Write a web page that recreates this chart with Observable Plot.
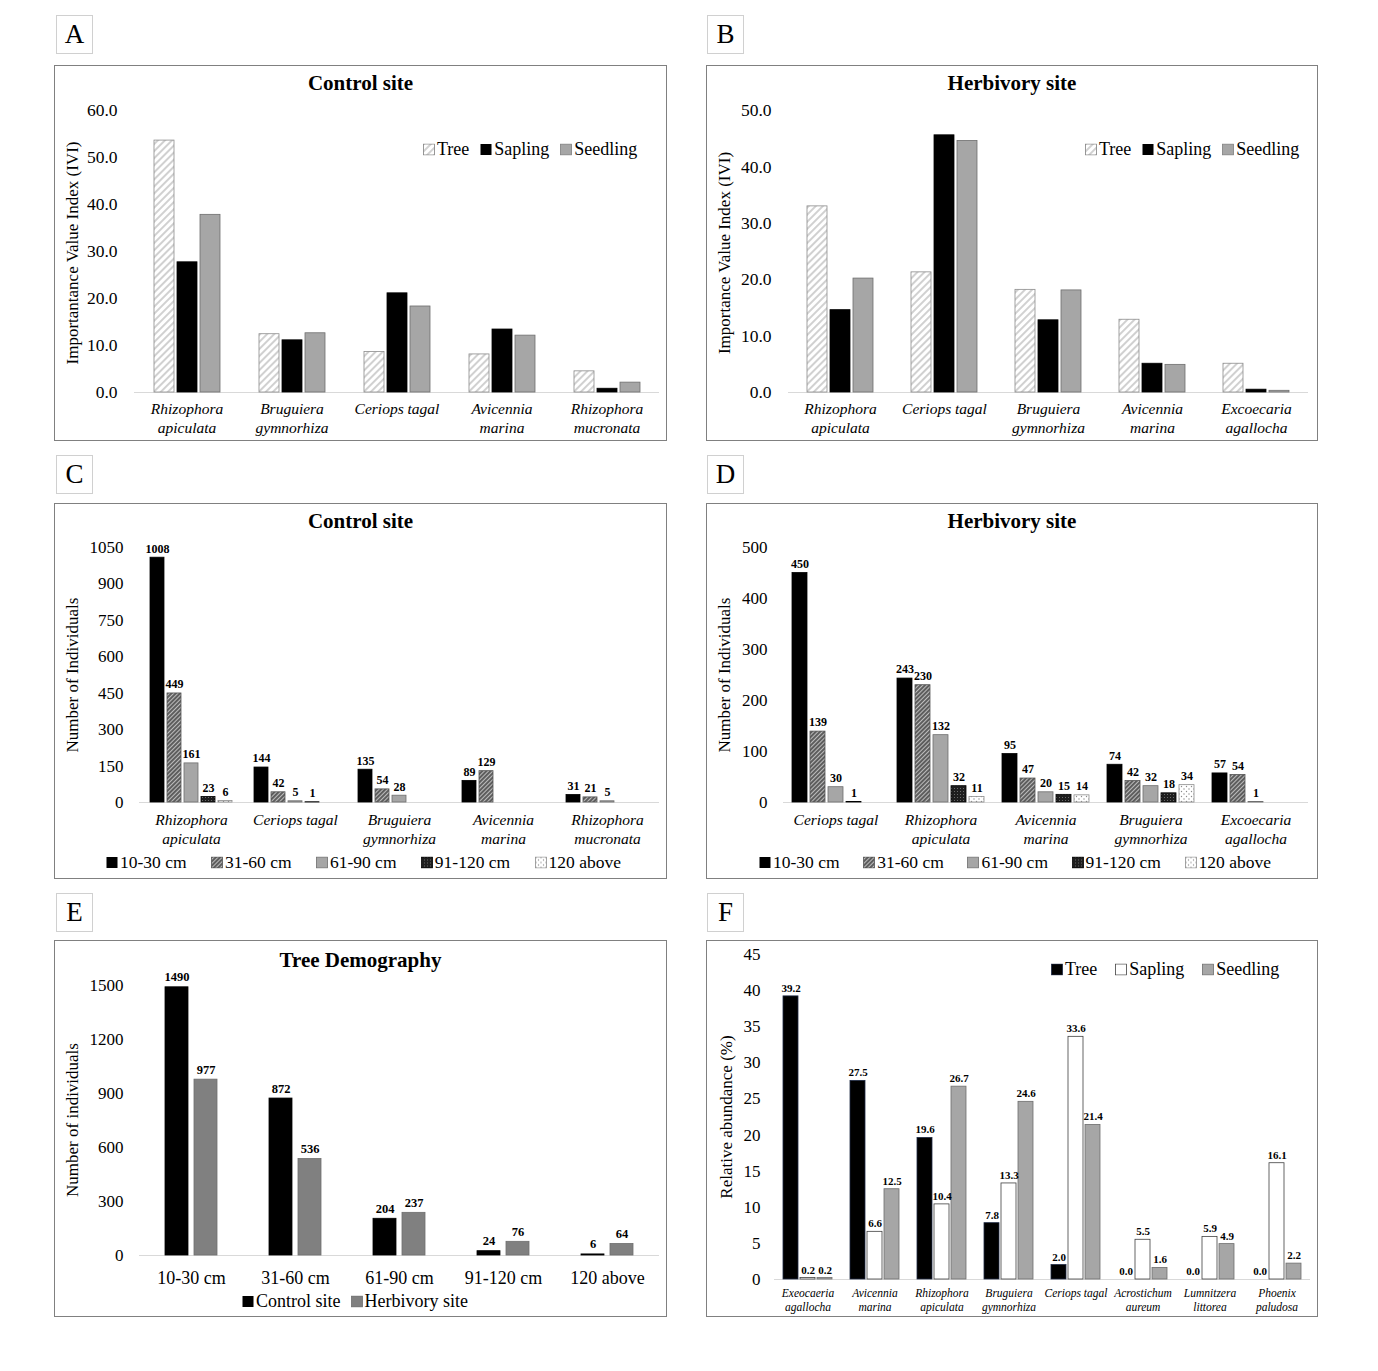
<!DOCTYPE html>
<html><head><meta charset="utf-8">
<script src="https://cdn.jsdelivr.net/npm/d3@7"></script>
<script src="https://cdn.jsdelivr.net/npm/@observablehq/plot@0.6"></script>
<style>
body{margin:0;background:#fff;font-family:"Liberation Serif","Times New Roman",serif;color:#000;}
#page{position:relative;width:1378px;height:1371px;overflow:hidden;}
.panel{position:absolute;}
.frame{position:absolute;left:0;top:0;right:0;bottom:0;border:1px solid #808080;box-sizing:border-box;pointer-events:none;}
.panel svg.chart{position:absolute;left:0;top:0;}
.panel svg.chart text{font-family:"Liberation Serif","Times New Roman",serif;}
.letter{position:absolute;width:37px;height:39px;border:1px solid #d0d0d0;box-sizing:border-box;display:flex;align-items:center;justify-content:center;font-size:27px;}
.title{position:absolute;left:0;right:0;text-align:center;font-weight:bold;font-size:21px;line-height:24px;}
.ylab{position:absolute;transform:translate(-50%,-50%) rotate(-90deg);white-space:nowrap;font-size:17px;line-height:20px;}
.legend{position:absolute;display:flex;align-items:center;white-space:nowrap;transform:translateY(-50%);}
.legend .item{display:flex;align-items:center;}
.legend svg{display:block;margin-right:2px;}
</style>
</head><body>
<svg width="0" height="0" style="position:absolute">
  <defs>
    <pattern id="pTree" patternUnits="userSpaceOnUse" width="5" height="5" patternTransform="rotate(45)">
      <rect width="5" height="5" fill="#fff"/>
      <line x1="1" y1="0" x2="1" y2="5" stroke="#b8b8b8" stroke-width="1.3"/>
    </pattern>
    <pattern id="p3160" patternUnits="userSpaceOnUse" width="3" height="3" patternTransform="rotate(45)">
      <rect width="3" height="3" fill="#bdbdbd"/>
      <line x1="1" y1="0" x2="1" y2="3" stroke="#2a2a2a" stroke-width="1.3"/>
    </pattern>
    <pattern id="p91120" patternUnits="userSpaceOnUse" width="3" height="3">
      <rect width="3" height="3" fill="#1e1e1e"/>
      <rect x="0" y="0" width="1" height="1" fill="#6a6a6a"/>
    </pattern>
    <pattern id="p120" patternUnits="userSpaceOnUse" width="5" height="5">
      <rect width="5" height="5" fill="#fff"/>
      <circle cx="1" cy="1" r="0.7" fill="#8a8a8a"/>
      <circle cx="3.5" cy="3.5" r="0.7" fill="#8a8a8a"/>
    </pattern>
  </defs>
</svg>
<div id="page"></div>
<script>
// ---------------- DATA ----------------
const stages = ["Tree", "Sapling", "Seedling"];
const sizeClasses = ["10-30 cm", "31-60 cm", "61-90 cm", "91-120 cm", "120 above"];

// Panel A: IVI, control site
const catsA = ["Rhizophora apiculata", "Bruguiera gymnorhiza", "Ceriops tagal", "Avicennia marina", "Rhizophora mucronata"];
const labelsA = ["Rhizophora\napiculata", "Bruguiera\ngymnorhiza", "Ceriops tagal", "Avicennia\nmarina", "Rhizophora\nmucronata"];
const treeA = [53.6, 12.4, 8.6, 8.1, 4.5];
const saplingA = [27.7, 11.1, 21.1, 13.4, 0.8];
const seedlingA = [37.8, 12.6, 18.3, 12.1, 2.1];
const ticksA = [0, 10, 20, 30, 40, 50, 60];

// Panel B: IVI, herbivory site
const catsB = ["Rhizophora apiculata", "Ceriops tagal", "Bruguiera gymnorhiza", "Avicennia marina", "Excoecaria agallocha"];
const labelsB = ["Rhizophora\napiculata", "Ceriops tagal", "Bruguiera\ngymnorhiza", "Avicennia\nmarina", "Excoecaria\nagallocha"];
const treeB = [33.0, 21.3, 18.2, 12.9, 5.1];
const saplingB = [14.6, 45.6, 12.8, 5.1, 0.5];
const seedlingB = [20.2, 44.6, 18.1, 4.9, 0.3];
const ticksB = [0, 10, 20, 30, 40, 50];

// Panel C: number of individuals by size class, control site
const catsC = ["Rhizophora apiculata", "Ceriops tagal", "Bruguiera gymnorhiza", "Avicennia marina", "Rhizophora mucronata"];
const labelsC = ["Rhizophora\napiculata", "Ceriops tagal", "Bruguiera\ngymnorhiza", "Avicennia\nmarina", "Rhizophora\nmucronata"];
const c10_30 = [1008, 144, 135, 89, 31];
const c31_60 = [449, 42, 54, 129, 21];
const c61_90 = [161, 5, 28, null, 5];
const c91_120 = [23, 1, null, null, null];
const c120 = [6, null, null, null, null];
const ticksC = [0, 150, 300, 450, 600, 750, 900, 1050];

// Panel D: number of individuals by size class, herbivory site
const catsD = ["Ceriops tagal", "Rhizophora apiculata", "Avicennia marina", "Bruguiera gymnorhiza", "Excoecaria agallocha"];
const labelsD = ["Ceriops tagal", "Rhizophora\napiculata", "Avicennia\nmarina", "Bruguiera\ngymnorhiza", "Excoecaria\nagallocha"];
const d10_30 = [450, 243, 95, 74, 57];
const d31_60 = [139, 230, 47, 42, 54];
const d61_90 = [30, 132, 20, 32, 1];
const d91_120 = [1, 32, 15, 18, null];
const d120 = [null, 11, 14, 34, null];
const ticksD = [0, 100, 200, 300, 400, 500];

// Panel E: tree demography
const sites = ["Control site", "Herbivory site"];
const controlE = [1490, 872, 204, 24, 6];
const herbivoryE = [977, 536, 237, 76, 64];
const ticksE = [0, 300, 600, 900, 1200, 1500];

// Panel F: relative abundance (%)
const catsF = ["Exeocaeria agallocha", "Avicennia marina", "Rhizophora apiculata", "Bruguiera gymnorhiza", "Ceriops tagal", "Acrostichum aureum", "Lumnitzera littorea", "Phoenix paludosa"];
const labelsF = ["Exeocaeria\nagallocha", "Avicennia\nmarina", "Rhizophora\napiculata", "Bruguiera\ngymnorhiza", "Ceriops tagal", "Acrostichum\naureum", "Lumnitzera\nlittorea", "Phoenix\npaludosa"];
const treeF = [39.2, 27.5, 19.6, 7.8, 2.0, 0.0, 0.0, 0.0];
const saplingF = [0.2, 6.6, 10.4, 13.3, 33.6, 5.5, 5.9, 16.1];
const seedlingF = [0.2, 12.5, 26.7, 24.6, 21.4, 1.6, 4.9, 2.2];
const ticksF = [0, 5, 10, 15, 20, 25, 30, 35, 40, 45];

// ---------------- HELPERS ----------------
const page = document.getElementById("page");

function el(tag, cls, parent, css) {
  const e = document.createElement(tag);
  if (cls) e.className = cls;
  if (css) Object.assign(e.style, css);
  parent.appendChild(e);
  return e;
}

function swatch(fill, stroke) {
  const ns = "http://www.w3.org/2000/svg";
  const s = document.createElementNS(ns, "svg");
  s.setAttribute("width", 12); s.setAttribute("height", 12);
  const r = document.createElementNS(ns, "rect");
  r.setAttribute("x", 0.5); r.setAttribute("y", 0.5);
  r.setAttribute("width", 11); r.setAttribute("height", 11);
  r.setAttribute("fill", fill);
  r.setAttribute("stroke", stroke || "none");
  r.setAttribute("stroke-width", 0.8);
  s.appendChild(r);
  return s;
}

function legend(parent, items, o) {
  const lg = el("div", "legend", parent, {left: o.left + "px", top: o.top + "px", fontSize: o.fontSize + "px", width: o.width ? o.width + "px" : null, justifyContent: o.width ? "space-between" : null, gap: o.gap ? o.gap + "px" : null});
  items.forEach(([name, fill, stroke]) => {
    const it = el("div", "item", lg);
    it.appendChild(swatch(fill, stroke));
    const t = el("span", null, it); t.textContent = name;
  });
}

function grouped(o) {
  const rows = [];
  o.cats.forEach((c, i) => o.series.forEach((s, j) => {
    const v = o.values[j][i];
    if (v != null) rows.push({cat: c, series: s, value: v});
  }));
  const marks = [Plot.ruleY([0], {stroke: "#d9d9d9", strokeWidth: 1})];
  o.series.forEach((s, j) => {
    marks.push(Plot.barY(rows.filter(d => d.series === s), {
      fx: "cat", x: "series", y: "value",
      fill: o.fills[j], stroke: o.strokes[j], strokeWidth: 0.8
    }));
  });
  if (o.valueFormat) {
    marks.push(Plot.text(rows, {
      fx: "cat", x: "series", y: "value", text: d => o.valueFormat(d.value),
      dy: o.labelDy, fontSize: o.labelSize, fontWeight: "bold", fill: "#000"
    }));
  }
  marks.push(Plot.axisY({ticks: o.yTicks, tickFormat: o.yFormat, tickSize: 0, tickPadding: o.yPad, fontSize: o.yFont, label: null}));
  marks.push(Plot.axisFx({
    anchor: "bottom",
    tickSize: 0, tickPadding: o.fxPad, fontSize: o.fxFont, fontStyle: o.fxStyle || "normal",
    lineHeight: o.fxLine || 1.2, tickFormat: d => o.catLabels[o.cats.indexOf(d)], label: null
  }));
  const svg = Plot.plot({
    width: o.width, height: o.height,
    marginTop: o.m[0], marginRight: o.m[1], marginBottom: o.m[2], marginLeft: o.m[3],
    style: {fontFamily: "'Liberation Serif', 'Times New Roman', serif", fontSize: "16px", background: "transparent", overflow: "visible", color: "#000"},
    fx: {domain: o.cats, padding: 0, label: null},
    x: {domain: o.series, paddingInner: o.pi, paddingOuter: o.po, axis: null},
    y: {domain: o.yDomain, label: null},
    marks
  });
  svg.classList.add("chart");
  return svg;
}

function panel(p) {
  const box = el("div", "panel", page, {left: p.x + "px", top: p.y + "px", width: p.w + "px", height: p.h + "px"});
  box.appendChild(grouped(Object.assign({width: p.w, height: p.h}, p.chart)));
  el("div", "frame", box);
  if (p.title) { const t = el("div", "title", box, {top: p.titleTop + "px"}); t.textContent = p.title; }
  const yl = el("div", "ylab", box, {left: p.ylab[0] + "px", top: p.ylab[1] + "px"}); yl.textContent = p.ylabel;
  legend(box, p.legend, p.legendOpts);
  const L = el("div", "letter", page, {left: p.letter[0] + "px", top: p.letter[1] + "px"});
  L.textContent = p.letterText;
}

const fmt1 = d => d.toFixed(1);
const fmtInt = d => String(d);

// ---------------- PANELS ----------------
panel({
  letterText: "A", letter: [56, 15],
  x: 54, y: 65, w: 613, h: 376, title: "Control site", titleTop: 6,
  ylabel: "Importantance Value Index (IVI)", ylab: [19, 188],
  legend: [["Tree", "url(#pTree)", "#7f7f7f"], ["Sapling", "#000", null], ["Seedling", "#a6a6a6", "#7f7f7f"]],
  legendOpts: {left: 369, top: 84, fontSize: 18, gap: 11},
  chart: {
    cats: catsA, catLabels: labelsA, series: stages, values: [treeA, saplingA, seedlingA],
    fills: ["url(#pTree)", "#000", "#a6a6a6"], strokes: ["#8c8c8c", "#000", "#6e6e6e"],
    yDomain: [0, 60], yTicks: ticksA, yFormat: fmt1, yPad: 17, yFont: 17.5,
    fxPad: 9, fxFont: 15.5, fxStyle: "italic", fxLine: 1.17,
    m: [45, 7, 49, 79], pi: 0.15, po: 0.82
  }
});

panel({
  letterText: "B", letter: [707, 15],
  x: 706, y: 65, w: 612, h: 376, title: "Herbivory site", titleTop: 6,
  ylabel: "Importance Value Index (IVI)", ylab: [19, 188],
  legend: [["Tree", "url(#pTree)", "#7f7f7f"], ["Sapling", "#000", null], ["Seedling", "#a6a6a6", "#7f7f7f"]],
  legendOpts: {left: 379, top: 84, fontSize: 18, gap: 11},
  chart: {
    cats: catsB, catLabels: labelsB, series: stages, values: [treeB, saplingB, seedlingB],
    fills: ["url(#pTree)", "#000", "#a6a6a6"], strokes: ["#8c8c8c", "#000", "#6e6e6e"],
    yDomain: [0, 50], yTicks: ticksB, yFormat: fmt1, yPad: 17, yFont: 17.5,
    fxPad: 9, fxFont: 15.5, fxStyle: "italic", fxLine: 1.17,
    m: [45, 9, 49, 80], pi: 0.15, po: 0.82
  }
});

const dbhLegend = [["10-30 cm", "#000", null], ["31-60 cm", "url(#p3160)", "#555"], ["61-90 cm", "#a6a6a6", "#6e6e6e"], ["91-120 cm", "url(#p91120)", "#000"], ["120 above", "url(#p120)", "#8c8c8c"]];
const dbhFills = ["#000", "url(#p3160)", "#a6a6a6", "url(#p91120)", "url(#p120)"];
const dbhStrokes = ["#000", "#555", "#6e6e6e", "#000", "#8c8c8c"];

panel({
  letterText: "C", letter: [56, 455],
  x: 54, y: 503, w: 613, h: 376, title: "Control site", titleTop: 6,
  ylabel: "Number of Individuals", ylab: [19, 172],
  legend: dbhLegend,
  legendOpts: {left: 52, top: 359, fontSize: 17.5, width: 515},
  chart: {
    cats: catsC, catLabels: labelsC, series: sizeClasses, values: [c10_30, c31_60, c61_90, c91_120, c120],
    fills: dbhFills, strokes: dbhStrokes,
    yDomain: [0, 1050], yTicks: ticksC, yFormat: fmtInt, yPad: 16, yFont: 17,
    valueFormat: fmtInt, labelDy: -9, labelSize: 12,
    fxPad: 10, fxFont: 15.5, fxStyle: "italic", fxLine: 1.17,
    m: [44, 7, 77, 84], pi: 0.167, po: 0.48
  }
});

panel({
  letterText: "D", letter: [707, 455],
  x: 706, y: 503, w: 612, h: 376, title: "Herbivory site", titleTop: 6,
  ylabel: "Number of Individuals", ylab: [19, 172],
  legend: dbhLegend,
  legendOpts: {left: 53, top: 359, fontSize: 17.5, width: 512},
  chart: {
    cats: catsD, catLabels: labelsD, series: sizeClasses, values: [d10_30, d31_60, d61_90, d91_120, d120],
    fills: dbhFills, strokes: dbhStrokes,
    yDomain: [0, 500], yTicks: ticksD, yFormat: fmtInt, yPad: 16, yFont: 17,
    valueFormat: fmtInt, labelDy: -9, labelSize: 12,
    fxPad: 10, fxFont: 15.5, fxStyle: "italic", fxLine: 1.17,
    m: [44, 8, 77, 75], pi: 0.167, po: 0.48
  }
});

panel({
  letterText: "E", letter: [56, 893],
  x: 54, y: 940, w: 613, h: 377, title: "Tree Demography", titleTop: 8,
  ylabel: "Number of individuals", ylab: [19, 180],
  legend: [["Control site", "#000", null], ["Herbivory site", "#808080", "#6e6e6e"]],
  legendOpts: {left: 188, top: 361, fontSize: 18, gap: 10},
  chart: {
    cats: sizeClasses, catLabels: sizeClasses, series: sites, values: [controlE, herbivoryE],
    fills: ["#000", "#808080"], strokes: ["#000", "#6e6e6e"],
    yDomain: [0, 1500], yTicks: ticksE, yFormat: fmtInt, yPad: 16, yFont: 17,
    valueFormat: fmtInt, labelDy: -10, labelSize: 12.5,
    fxPad: 13, fxFont: 18, fxStyle: "normal", fxLine: 1.2,
    m: [45, 7, 62, 84], pi: 0.2, po: 0.84
  }
});

panel({
  letterText: "F", letter: [707, 893],
  x: 706, y: 940, w: 612, h: 377, title: null,
  ylabel: "Relative abundance (%)", ylab: [21, 177],
  legend: [["Tree", "#000", "#1f2a44"], ["Sapling", "#fff", "#404040"], ["Seedling", "#a6a6a6", "#6e6e6e"]],
  legendOpts: {left: 345, top: 29, fontSize: 18, gap: 18},
  chart: {
    cats: catsF, catLabels: labelsF, series: stages, values: [treeF, saplingF, seedlingF],
    fills: ["#000", "#fff", "#a6a6a6"], strokes: ["#1f2a44", "#404040", "#6e6e6e"],
    yDomain: [0, 45], yTicks: ticksF, yFormat: fmtInt, yPad: 14, yFont: 17,
    valueFormat: fmt1, labelDy: -8, labelSize: 11,
    fxPad: 8, fxFont: 11.5, fxStyle: "italic", fxLine: 1.22,
    m: [14, 6, 38, 66], pi: 0.143, po: 0.5
  }
});
</script>
</body></html>
